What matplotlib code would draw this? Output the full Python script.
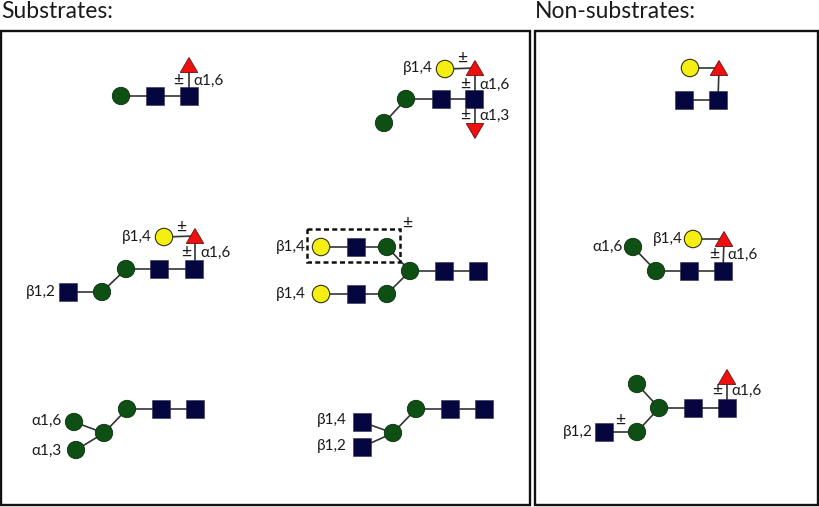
import matplotlib
matplotlib.use("Agg")
import matplotlib.pyplot as plt
from matplotlib.patches import Circle, Rectangle, Polygon

plt.rcParams['font.family'] = ['Lato', 'DejaVu Sans']

W, H = 819, 507

# Diagram contents (x, y in picture pixels)
panels = [(1, 31, 530, 505), (535, 31, 818, 505)]
panel_titles = [("Substrates:", 1, 18), ("Non-substrates:", 535, 18)]

green_circles = [(121, 96), (406, 99), (384, 123), (126, 269), (102, 292),
                 (387, 247), (410, 271), (387, 294), (127, 409), (104, 433),
                 (74, 422), (76, 450), (416, 409), (393, 433), (633, 247),
                 (656, 271), (637, 384), (659, 408), (637, 432)]
yellow_circles = [(445, 69), (164, 237), (321, 247), (321, 294), (690, 68), (693, 239)]
navy_squares = [(155, 96), (189, 96), (474, 99), (441, 99), (194, 269), (159, 269),
                (68, 292), (356, 247), (356, 294), (444, 271), (478, 271),
                (161, 409), (195, 409), (450, 409), (484, 409), (362, 422),
                (362, 447), (718, 100), (684, 100), (689, 271), (723, 271),
                (693, 408), (727, 408), (604, 432)]
red_up = [(189, 65), (475, 68), (195, 236), (719, 68), (724, 239), (727, 377)]
red_down = [(475, 131)]

links = [
    ((121, 96), (189, 96)), ((189, 96), (189, 65)),
    ((384, 123), (406, 99)), ((406, 99), (474, 99)), ((475, 99), (475, 68)),
    ((475, 99), (475, 131)), ((445, 69), (475, 68)),
    ((68, 292), (102, 292)), ((102, 292), (126, 269)), ((126, 269), (194, 269)),
    ((195, 269), (195, 236)), ((164, 237), (195, 236)),
    ((321, 247), (387, 247)), ((387, 247), (410, 271)), ((410, 271), (478, 271)),
    ((321, 294), (387, 294)), ((387, 294), (410, 271)),
    ((127, 409), (195, 409)), ((127, 409), (104, 433)), ((104, 433), (74, 422)),
    ((104, 433), (76, 450)),
    ((416, 409), (484, 409)), ((416, 409), (393, 433)), ((393, 433), (362, 422)),
    ((393, 433), (362, 447)),
    ((684, 100), (718, 100)), ((718, 100), (719, 68)), ((690, 68), (719, 68)),
    ((633, 247), (656, 271)), ((656, 271), (723, 271)), ((723, 271), (724, 239)),
    ((693, 239), (724, 239)),
    ((637, 384), (659, 408)), ((659, 408), (727, 408)), ((727, 408), (727, 377)),
    ((659, 408), (637, 432)), ((637, 432), (604, 432)),
]

bond_labels = [
    ("α1,6", 193, 81), ("β1,4", 403, 68), ("α1,6", 479, 85), ("α1,3", 479, 116),
    ("β1,4", 122, 237), ("β1,2", 26, 292), ("α1,6", 200, 253),
    ("β1,4", 276, 247), ("β1,4", 276, 294),
    ("α1,6", 31, 421), ("α1,3", 31, 451), ("β1,4", 317, 420), ("β1,2", 317, 446),
    ("β1,4", 653, 239), ("α1,6", 592, 247), ("α1,6", 727, 255),
    ("β1,2", 563, 432), ("α1,6", 731, 391),
]
optional_marks = [(178, 80), (462, 58), (465, 84), (465, 115), (181, 227), (186, 252),
                  (407, 223), (620, 420), (714, 254), (717, 390)]
dashed_box = (307, 229, 400, 262)

GREEN, NAVY, YELLOW, RED = "#0e4f14", "#05053f", "#f4ee12", "#ee1010"
R = 8.7
S = 17.5
TW, TH = 17.5, 15

fig = plt.figure(figsize=(W / 100, H / 100), dpi=100)
ax = fig.add_axes([0, 0, 1, 1])
ax.set_xlim(0, W)
ax.set_ylim(H, 0)
ax.axis("off")

for x0, y0, x1, y1 in panels:
    ax.add_patch(Rectangle((x0, y0), x1 - x0, y1 - y0, fill=False, ec="#111111", lw=1.7, zorder=1))
for t, x, y in panel_titles:
    ax.text(x, y, t, fontsize=16.5, color="#1a1a1a", ha="left", va="baseline")

for (x0, y0), (x1, y1) in links:
    ax.plot([x0, x1], [y0, y1], color="#333333", lw=1.2, zorder=2, solid_capstyle="butt")

bx0, by0, bx1, by1 = dashed_box
ax.add_patch(Rectangle((bx0, by0), bx1 - bx0, by1 - by0, fill=False, ec="#111111",
                       lw=1.8, ls=(0, (2.0, 1.3)), zorder=2))

for x, y in green_circles:
    ax.add_patch(Circle((x, y), R, fc=GREEN, ec="#0b2f10", lw=0.6, zorder=3))
for x, y in yellow_circles:
    ax.add_patch(Circle((x, y), R, fc=YELLOW, ec="#333311", lw=0.8, zorder=3))
for x, y in navy_squares:
    ax.add_patch(Rectangle((x - S / 2, y - S / 2), S, S, fc=NAVY, ec="#30304f", lw=0.4, zorder=3))
for x, y in red_up:
    ax.add_patch(Polygon([(x - TW / 2, y + TH / 2), (x + TW / 2, y + TH / 2), (x, y - TH / 2)],
                         fc=RED, ec="#6a1010", lw=0.6, zorder=3))
for x, y in red_down:
    ax.add_patch(Polygon([(x - TW / 2, y - TH / 2), (x + TW / 2, y - TH / 2), (x, y + TH / 2)],
                         fc=RED, ec="#6a1010", lw=0.6, zorder=3))

for t, x, y in bond_labels:
    ax.text(x, y, t, fontsize=11, color="#1a1a1a", ha="left", va="center", zorder=4)
for x, y in optional_marks:
    ax.text(x, y, "±", fontsize=12.5, color="#1a1a1a", ha="center", va="center", zorder=4)

fig.savefig("out.png", dpi=100)
